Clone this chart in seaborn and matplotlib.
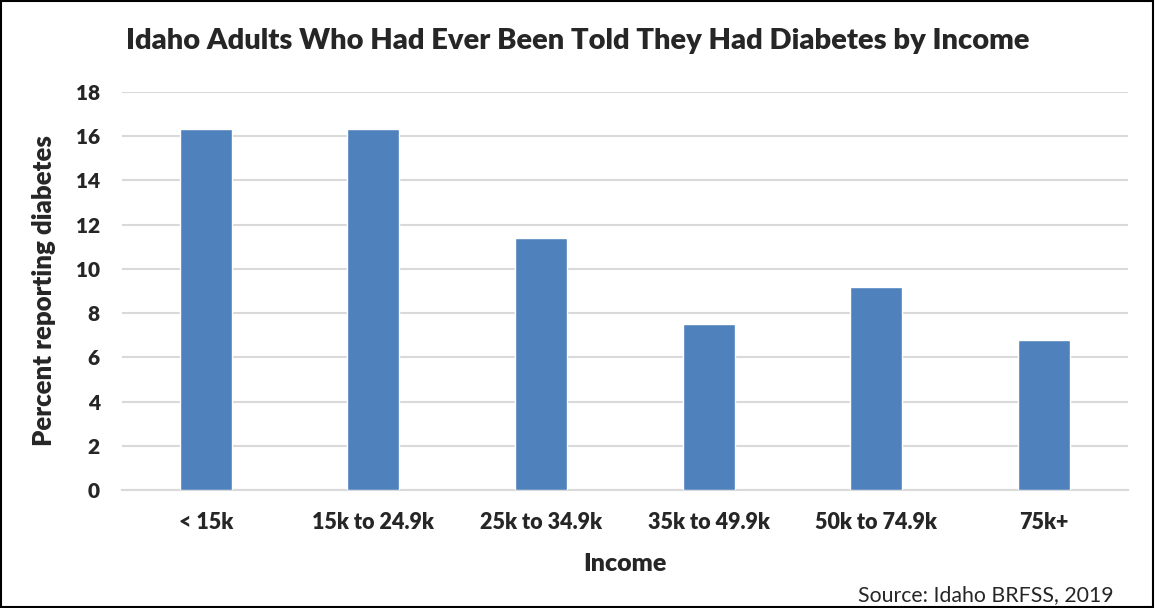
import matplotlib
matplotlib.use("Agg")
import matplotlib.pyplot as plt
import numpy as np
import pandas as pd
import seaborn as sns
from matplotlib.patches import Rectangle

income = ["< 15k", "15k to 24.9k", "25k to 34.9k", "35k to 49.9k", "50k to 74.9k", "75k+"]
pct_diabetes = [16.3, 16.3, 11.4, 7.5, 9.2, 6.8]
y_ticks = [0, 2, 4, 6, 8, 10, 12, 14, 16, 18]

BAR_COLOR = "#4F81BD"
GRID_COLOR = "#D9D9D9"

sns.set_style("white")
plt.rcParams["font.family"] = ["Lato", "DejaVu Sans"]

df = pd.DataFrame({"Income": income, "Percent": pct_diabetes})

fig = plt.figure(figsize=(11.56, 6.08), dpi=100)
ax = fig.add_axes([0.1055, 0.194, 0.870, 0.655])

sns.barplot(data=df, x="Income", y="Percent", color=BAR_COLOR, width=0.31,
            saturation=1, ax=ax, zorder=3)

ax.set_ylim(0, 18)
ax.set_xlim(-0.5, len(income) - 0.5)
ax.set_yticks(y_ticks)
ax.set_yticklabels([str(t) for t in y_ticks], fontsize=15, fontweight="heavy")
ax.set_xticks(range(len(income)))
ax.set_xticklabels(income, fontsize=15.5, fontweight="heavy")
ax.tick_params(axis="x", which="major", length=0, pad=16)
ax.tick_params(axis="y", length=0, pad=16)

# category boundary tick marks on the x axis
ax.set_xticks(np.arange(-0.5, len(income)), minor=True)
ax.tick_params(axis="x", which="minor", length=9, width=1.2, color=GRID_COLOR, direction="out")

ax.grid(axis="y", color=GRID_COLOR, linewidth=1.5, zorder=0)
for side in ["top", "right", "left"]:
    ax.spines[side].set_visible(False)
ax.spines["bottom"].set_color(GRID_COLOR)
ax.spines["bottom"].set_linewidth(1.5)

ax.set_xlabel("Income", fontsize=18, fontweight="heavy", labelpad=14)
ax.set_ylabel("Percent reporting diabetes", fontsize=18.5, fontweight="heavy", labelpad=14)

fig.text(0.5, 0.932, "Idaho Adults Who Had Ever Been Told They Had Diabetes by Income",
         ha="center", va="center", fontsize=21, fontweight="heavy")
fig.text(0.963, 0.022, "Source: Idaho BRFSS, 2019", ha="right", va="center", fontsize=15.3)

fig.patches.append(Rectangle((0.001, 0.001), 0.996, 0.998, transform=fig.transFigure,
                             fill=False, edgecolor="black", linewidth=1.5))

plt.savefig("out.png", dpi=100)
